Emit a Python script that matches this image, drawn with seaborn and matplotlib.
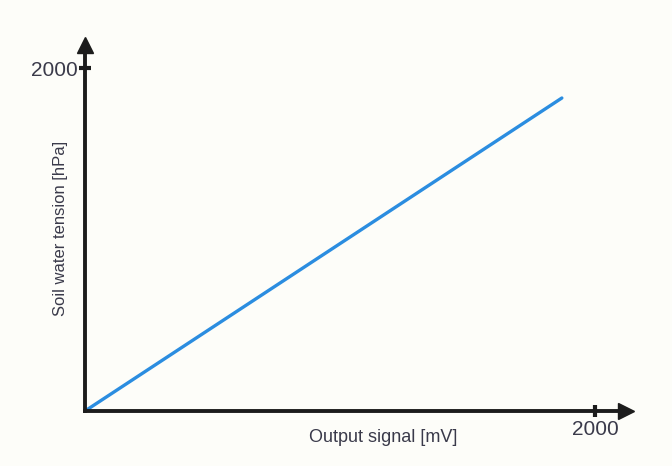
import matplotlib
matplotlib.use("Agg")
import matplotlib.pyplot as plt
import seaborn as sns
import pandas as pd

# Sensor calibration: output signal vs. soil water tension
signal_mv = [0, 1870]
tension_hpa = [0, 1825]
x_ticks = [2000]
y_ticks = [2000]
x_label = "Output signal [mV]"
y_label = "Soil water tension [hPa]"

df = pd.DataFrame({"signal": signal_mv, "tension": tension_hpa})

sns.set_style("white")
plt.rcParams["font.family"] = ["Liberation Sans", "DejaVu Sans"]

W, H = 672, 466
fig = plt.figure(figsize=(W / 100, H / 100), dpi=100, facecolor="#fdfdf9")

# axes frame in pixel terms: origin at (85, 411), arrow tips at x=633 / y=38
x0, y0, x1, y1 = 85, 411, 633, 38
ax = fig.add_axes([x0 / W, (H - y0) / H, (x1 - x0) / W, (y0 - y1) / H])
ax.set_facecolor("none")

xmax = 2000 * (x1 - x0) / (595 - x0)
ymax = 2000 * (y0 - y1) / (y0 - 68)
ax.set_xlim(0, xmax)
ax.set_ylim(0, ymax)

sns.lineplot(data=df, x="signal", y="tension", ax=ax, color="#2b8de0",
             linewidth=2.4, clip_on=False)

axis_col = "#1c1c1c"
for side in ("top", "right"):
    ax.spines[side].set_visible(False)
for side in ("left", "bottom"):
    ax.spines[side].set_color(axis_col)
    ax.spines[side].set_linewidth(2.8)
    ax.spines[side].set_capstyle("projecting")
ax.spines["left"].set_bounds(0, ymax * 0.97)
ax.spines["bottom"].set_bounds(0, xmax * 0.97)

# arrow heads at the ends of the axes (tip lands on the axes edge)
ax.plot(1 - 7 / (x1 - x0), 0, marker=">", color=axis_col, markersize=11,
        transform=ax.transAxes, clip_on=False)
ax.plot(0, 1 - 7 / (y0 - y1), marker="^", color=axis_col, markersize=11,
        transform=ax.transAxes, clip_on=False)

ax.set_xticks(x_ticks)
ax.set_yticks(y_ticks)
ax.set_xticklabels([str(v) for v in x_ticks])
ax.set_yticklabels([str(v) for v in y_ticks], va="center_baseline")
ax.tick_params(axis="both", direction="inout", length=9, width=3,
               color=axis_col, labelsize=15, labelcolor="#3a3a4a",
               bottom=True, left=True)
ax.tick_params(axis="x", pad=2)
ax.tick_params(axis="y", pad=1)

ax.set_xlabel(x_label, fontsize=13, color="#3a3a4a")
ax.set_ylabel(y_label, fontsize=12, color="#3a3a4a")
ax.xaxis.set_label_coords((383 - x0) / (x1 - x0), -(437 - y0) / (y0 - y1))
ax.yaxis.set_label_coords(-(x0 - 60) / (x1 - x0), (y0 - 228) / (y0 - y1))
ax.xaxis.label.set_va("center")
ax.yaxis.label.set_va("center")

fig.savefig("out.png", dpi=100, facecolor=fig.get_facecolor())
